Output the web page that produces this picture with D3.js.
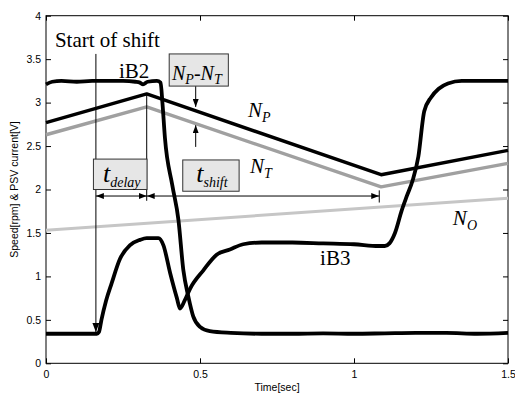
<!DOCTYPE html>
<html>
<head>
<meta charset="utf-8">
<script src="https://cdn.jsdelivr.net/npm/d3@7"></script>
<style>
  html, body { margin: 0; padding: 0; background: #fff; }
  svg { display: block; }
  .tick text { font-family: "Liberation Sans", Arial, sans-serif; font-size: 10.5px; fill: #000; }
  .tick line { stroke: #000; stroke-width: 1; }
  .serif { font-family: "Liberation Serif", "Times New Roman", serif; fill: #000; }
</style>
</head>
<body>
<svg id="chart" width="515" height="394"></svg>
<script>
// ---- Data: time [s] and signal values ----
const xTicks = [0, 0.5, 1, 1.5];
const yTicks = [0, 0.5, 1, 1.5, 2, 2.5, 3, 3.5, 4];

// PSV current iB2 (high, then released during the shift)
const tB2 = [0, 0.02, 0.05, 0.1, 0.15, 0.2, 0.25, 0.29, 0.305, 0.315, 0.33, 0.36, 0.372, 0.378, 0.386,
             0.41, 0.43, 0.446, 0.462, 0.478, 0.5, 0.532, 0.6, 0.7, 0.8, 0.9, 1.0, 1.1, 1.2, 1.3, 1.4, 1.5];
const vB2 = [3.21, 3.24, 3.25, 3.24, 3.25, 3.25, 3.25, 3.24, 3.23, 3.21, 3.24, 3.25, 3.23, 3.0, 2.6,
             2.05, 1.65, 1.07, 0.77, 0.54, 0.42, 0.37, 0.35, 0.34, 0.34, 0.345, 0.34, 0.345, 0.35, 0.35, 0.34, 0.35];

// PSV current iB3 (pre-fill pulse, dip, hold, then full engagement)
const tB3 = [0, 0.1, 0.165, 0.172, 0.18, 0.195, 0.213, 0.24, 0.273, 0.305, 0.327, 0.365, 0.381, 0.403,
             0.425, 0.435, 0.45, 0.468, 0.511, 0.554, 0.597, 0.64, 0.7, 0.8, 0.9, 1.0, 1.08, 1.1, 1.115,
             1.133, 1.155, 1.171, 1.19, 1.209, 1.228, 1.25, 1.275, 1.305, 1.35, 1.4, 1.5];
const vB3 = [0.34, 0.34, 0.34, 0.36, 0.5, 0.72, 0.92, 1.2, 1.36, 1.42, 1.44, 1.44, 1.36, 1.04,
             0.75, 0.63, 0.72, 0.86, 1.07, 1.25, 1.31, 1.37, 1.39, 1.39, 1.38, 1.37, 1.35, 1.35, 1.38,
             1.5, 1.76, 1.92, 2.1, 2.38, 2.9, 3.06, 3.16, 3.22, 3.25, 3.25, 3.25];

// Speeds N_P, N_T (piecewise linear) and N_O
const tN  = [0, 0.327, 1.088, 1.5];
const vNP = [2.77, 3.10, 2.17, 2.45];
const vNT = [2.63, 2.95, 2.03, 2.30];
const tNO = [0, 1.5];
const vNO = [1.53, 1.90];

// Shift timing markers [s]
const tShiftStart = 0.162;
const tDelayEnd = 0.327;
const tShiftEnd = 1.082;
const tGap = 0.486;

// ---- Layout ----
const svg = d3.select("#chart");
const padL = 46, padR = 508, padT = 15.7, padB = 363.3;
const x = d3.scaleLinear().domain([0, 1.5]).range([padL, padR]);
const y = d3.scaleLinear().domain([0, 4]).range([padB, padT]);

// Arrowhead markers
const defs = svg.append("defs");
function marker(id, len, wid) {
  defs.append("marker")
    .attr("id", id).attr("markerUnits", "userSpaceOnUse")
    .attr("viewBox", `0 0 ${len} ${wid}`)
    .attr("refX", len).attr("refY", wid / 2)
    .attr("markerWidth", len).attr("markerHeight", wid)
    .attr("orient", "auto-start-reverse")
    .append("path").attr("d", `M0,0 L${len},${wid / 2} L0,${wid} Z`).attr("fill", "#000");
}
marker("ah", 8, 6);
marker("ahBig", 9, 7);

// Axes with inward ticks on all four sides
svg.append("g").attr("transform", `translate(0,${padB})`)
  .call(d3.axisBottom(x).tickValues(xTicks).tickSize(-5).tickPadding(7).tickFormat(d3.format("~g")))
  .call(g => g.select(".domain").remove());
svg.append("g").attr("transform", `translate(0,${padT})`)
  .call(d3.axisTop(x).tickValues(xTicks).tickSize(-5).tickFormat(""))
  .call(g => g.select(".domain").remove());
svg.append("g").attr("transform", `translate(${padL},0)`)
  .call(d3.axisLeft(y).tickValues(yTicks).tickSize(-5).tickPadding(5).tickFormat(d3.format("~g")))
  .call(g => g.select(".domain").remove());
svg.append("g").attr("transform", `translate(${padR},0)`)
  .call(d3.axisRight(y).tickValues(yTicks).tickSize(-5).tickFormat(""))
  .call(g => g.select(".domain").remove());

svg.append("rect").attr("x", padL).attr("y", padT)
  .attr("width", padR - padL).attr("height", padB - padT)
  .attr("fill", "none").attr("stroke", "#000").attr("stroke-width", 1);

// Axis titles
svg.append("text").attr("x", (padL + padR) / 2).attr("y", 391)
  .attr("text-anchor", "middle")
  .style("font-family", "Liberation Sans, Arial, sans-serif").style("font-size", "10.5px")
  .text("Time[sec]");
svg.append("text").attr("transform", `translate(18,${(padT + padB) / 2}) rotate(-90)`)
  .attr("text-anchor", "middle")
  .style("font-family", "Liberation Sans, Arial, sans-serif").style("font-size", "10.5px")
  .text("Speed[rpm] & PSV current[V]");

// ---- Curves ----
const lineLin = d3.line().x(d => x(d[0])).y(d => y(d[1]));
const lineSmooth = d3.line().x(d => x(d[0])).y(d => y(d[1])).curve(d3.curveMonotoneX);
const zip = (a, b) => a.map((v, i) => [v, b[i]]);

function draw(gen, data, color, width) {
  svg.append("path").datum(data).attr("d", gen)
    .attr("fill", "none").attr("stroke", color).attr("stroke-width", width)
    .attr("stroke-linejoin", "round").attr("stroke-linecap", "butt");
}
draw(lineLin, zip(tNO, vNO), "#c6c6c6", 3);
draw(lineLin, zip(tN, vNT), "#a0a0a0", 3.4);
draw(lineLin, zip(tN, vNP), "#000", 3.4);
draw(lineSmooth, zip(tB2, vB2), "#000", 3.8);
draw(lineSmooth, zip(tB3, vB3), "#000", 3.8);

// ---- Annotations ----
function seg(x1, y1, x2, y2, mStart, mEnd) {
  const l = svg.append("line").attr("x1", x1).attr("y1", y1).attr("x2", x2).attr("y2", y2)
    .attr("stroke", "#000").attr("stroke-width", 1);
  if (mStart) l.attr("marker-start", `url(#${mStart})`);
  if (mEnd) l.attr("marker-end", `url(#${mEnd})`);
}

// Start-of-shift marker down to the iB3 trace
seg(x(tShiftStart), y(3.56), x(tShiftStart), y(0.36), null, "ahBig");
// End of delay (from N_P peak)
seg(x(tDelayEnd), y(3.10), x(tDelayEnd), y(1.87));
// End of shift tick
seg(x(tShiftEnd), y(1.99), x(tShiftEnd), y(1.85));
// Duration arrows
const yArr = y(1.925);
seg(x(tShiftStart), yArr, x(tDelayEnd), yArr, "ah", "ah");
seg(x(tDelayEnd), yArr, x(tShiftEnd), yArr, "ah", "ah");
// N_P - N_T gap arrows
seg(x(tGap), y(3.19), x(tGap), y(2.95), null, "ah");
seg(x(tGap), y(2.49), x(tGap), y(2.74), null, "ah");

// Label boxes
function box(t0, t1, v0, v1) {
  svg.append("rect").attr("x", x(t0)).attr("y", y(v0))
    .attr("width", x(t1) - x(t0)).attr("height", y(v1) - y(v0))
    .attr("fill", "#e6e6e6").attr("stroke", "#333").attr("stroke-width", 1);
}
box(0.154, 0.328, 2.35, 2.0);
box(0.444, 0.627, 2.34, 1.98);
box(0.40, 0.592, 3.56, 3.19);

// Text helper: main text with optional italic subscript
function label(t, v, parts) {
  const txt = svg.append("text").attr("class", "serif").attr("x", x(t)).attr("y", y(v));
  parts.forEach(p => {
    const s = txt.append("tspan").text(p.s).style("font-size", p.size + "px");
    if (p.italic) s.style("font-style", "italic");
    if (p.dy) s.attr("dy", p.dy);
  });
  return txt;
}

label(0.029, 3.643, [{ s: "Start of shift", size: 21 }]);
label(0.237, 3.287, [{ s: "iB2", size: 21 }]);
label(0.89, 1.13, [{ s: "iB3", size: 21 }]);
label(0.656, 2.834, [{ s: "N", size: 21, italic: true }, { s: "P", size: 14, italic: true, dy: 5 }]);
label(0.662, 2.19, [{ s: "N", size: 21, italic: true }, { s: "T", size: 14, italic: true, dy: 5 }]);
label(1.321, 1.59, [{ s: "N", size: 21, italic: true }, { s: "O", size: 14, italic: true, dy: 5 }]);

label(0.409, 3.265, [
  { s: "N", size: 20, italic: true }, { s: "P", size: 14, italic: true, dy: 4 },
  { s: "-", size: 20, dy: -4 }, { s: "N", size: 20, italic: true },
  { s: "T", size: 14, italic: true, dy: 4 }
]);
label(0.185, 2.09, [{ s: "t", size: 26, italic: true }, { s: "delay", size: 14, italic: true, dy: 5 }]);
label(0.488, 2.09, [{ s: "t", size: 26, italic: true }, { s: "shift", size: 14, italic: true, dy: 5 }]);
</script>
</body>
</html>
